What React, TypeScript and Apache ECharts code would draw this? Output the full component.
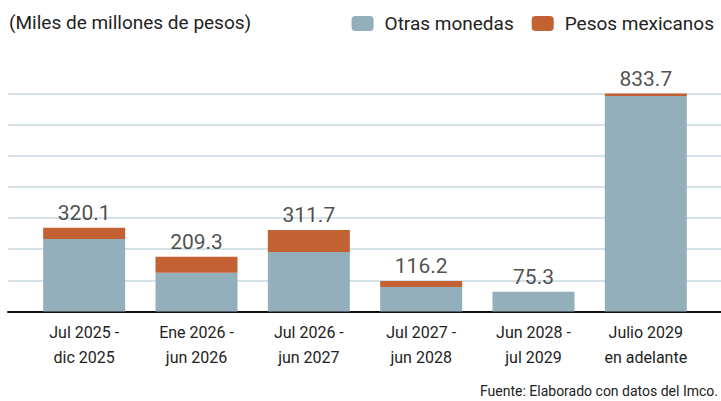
import React, { useEffect, useRef } from "react";
import * as echarts from "echarts";

const categories = [
  "Jul 2025 -\ndic 2025",
  "Ene 2026 -\njun 2026",
  "Jul 2026 -\njun 2027",
  "Jul 2027 -\njun 2028",
  "Jun 2028 -\njul 2029",
  "Julio 2029\nen adelante",
];
const otrasMonedas = [277.0, 148.3, 227.4, 93.6, 75.3, 824.6];
const pesosMexicanos = [43.1, 61.0, 84.3, 22.6, 0, 9.1];
const totals = [320.1, 209.3, 311.7, 116.2, 75.3, 833.7];

const FONT = "Roboto, 'Liberation Sans', sans-serif";
const TEXT = "#222222";
const C_OTRAS = "#94afbc";
const C_PESOS = "#c46132";

export default function App() {
  const ref = useRef<HTMLDivElement>(null);
  useEffect(() => {
    document.body.style.margin = "0";
    const chart = echarts.init(ref.current!, null, { renderer: "svg" });
    const yMax = 833.7;
    chart.setOption({
      animation: false,
      textStyle: { fontFamily: FONT },
      title: [
        {
          text: "(Miles de millones de pesos)",
          left: 9,
          top: 13,
          padding: 0,
          textStyle: { fontFamily: FONT, fontSize: 19, fontWeight: "normal", color: TEXT },
        },
        {
          text: "Fuente: Elaborado con datos del Imco.",
          right: 3,
          top: 384,
          padding: 0,
          textStyle: { fontFamily: FONT, fontSize: 14, fontWeight: "normal", color: TEXT },
        },
      ],
      legend: {
        right: 7,
        top: 14,
        padding: 0,
        itemWidth: 22,
        itemHeight: 15,
        itemGap: 18,
        data: ["Otras monedas", "Pesos mexicanos"],
        textStyle: { fontFamily: FONT, fontSize: 19, color: TEXT, padding: [0, 0, 0, 6] },
      },
      grid: [
        { left: 8, right: 0, top: 93.5, height: 218 },
        { left: 28, width: 674, top: 93.5, height: 218 },
      ],
      xAxis: [
        {
          gridIndex: 0,
          type: "category",
          data: [""],
          axisLine: { lineStyle: { color: "#111", width: 2 } },
          axisTick: { show: false },
          axisLabel: { show: false },
        },
        {
          gridIndex: 1,
          type: "category",
          data: categories,
          axisLine: { show: false },
          axisTick: { show: false },
          axisLabel: {
            interval: 0,
            margin: 9,
            fontFamily: FONT,
            fontSize: 16,
            lineHeight: 24.5,
            color: TEXT,
          },
        },
      ],
      yAxis: [
        {
          gridIndex: 0,
          type: "value",
          min: 0,
          max: yMax,
          interval: yMax / 7,
          axisLabel: { show: false },
          axisLine: { show: false },
          axisTick: { show: false },
          splitLine: { lineStyle: { color: "#c8d7e0", width: 1.5 } },
        },
        {
          gridIndex: 1,
          type: "value",
          min: 0,
          max: yMax,
          axisLabel: { show: false },
          axisLine: { show: false },
          axisTick: { show: false },
          splitLine: { show: false },
        },
      ],
      series: [
        {
          name: "Otras monedas",
          type: "bar",
          xAxisIndex: 1,
          yAxisIndex: 1,
          stack: "total",
          barCategoryGap: "27%",
          data: otrasMonedas,
          itemStyle: { color: C_OTRAS },
        },
        {
          name: "Pesos mexicanos",
          type: "bar",
          xAxisIndex: 1,
          yAxisIndex: 1,
          stack: "total",
          barCategoryGap: "27%",
          data: pesosMexicanos,
          itemStyle: { color: C_PESOS },
        },
        {
          name: "Total",
          type: "scatter",
          xAxisIndex: 1,
          yAxisIndex: 1,
          symbolSize: 1,
          itemStyle: { color: "rgba(0,0,0,0)" },
          data: totals,
          label: {
            show: true,
            position: "top",
            distance: 4,
            fontFamily: FONT,
            fontSize: 21,
            color: TEXT,
            formatter: (p: any) => p.value.toFixed(1),
          },
          z: 10,
        },
      ],
    });
    return () => chart.dispose();
  }, []);
  return <div ref={ref} style={{ width: 721, height: 401 }} />;
}
